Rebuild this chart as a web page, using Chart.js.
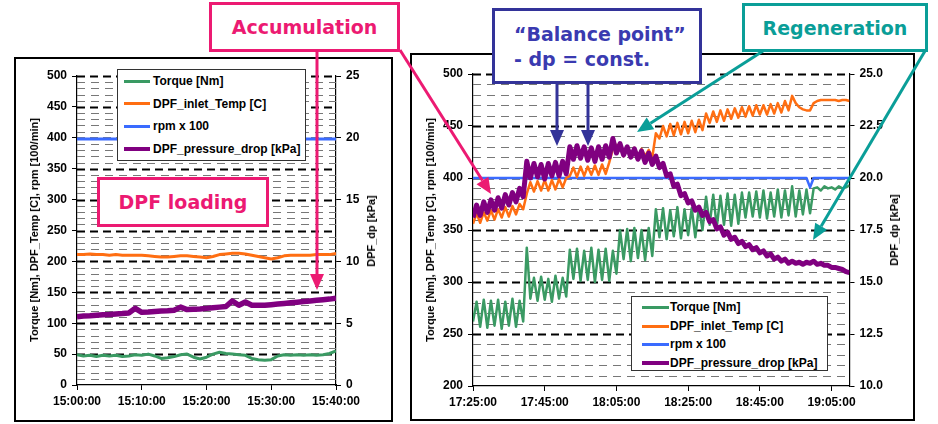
<!DOCTYPE html>
<html><head><meta charset="utf-8">
<script src="https://cdn.jsdelivr.net/npm/chart.js@4.4.1/dist/chart.umd.min.js"></script>
<style>
html,body{margin:0;padding:0;background:#fff;width:938px;height:424px;overflow:hidden;position:relative;font-family:"Liberation Sans",Arial,sans-serif;}
.frame{position:absolute;border:2px solid #000;box-sizing:border-box;}
canvas{position:absolute;}
.legend{position:absolute;background:#fff;border:1px solid #333;box-sizing:border-box;font:bold 12px "Liberation Sans",Arial,sans-serif;color:#000;}
.legend .row{position:absolute;white-space:nowrap;line-height:14px;}
.legend .sw{position:absolute;}
.ytitle{position:absolute;white-space:nowrap;font:bold 11px "Liberation Sans",Arial,sans-serif;color:#000;transform:translate(-50%,-50%) rotate(-90deg);}
.note{position:absolute;background:#fff;box-sizing:border-box;font:bold 19px "DejaVu Sans",sans-serif;display:flex;align-items:center;justify-content:center;white-space:nowrap;}
svg{position:absolute;left:0;top:0;}
</style>
</head><body>
<div class="frame" style="left:14px;top:57px;width:379px;height:365px"></div>
<div class="frame" style="left:410px;top:53px;width:505px;height:368px"></div>
<canvas id="c1" width="379" height="365" style="left:14px;top:57px;width:379px;height:365px"></canvas>
<canvas id="c2" width="505" height="368" style="left:410px;top:53px;width:505px;height:368px"></canvas>
<div id="overlay"></div>
<script>
// ---------- shared ----------
const seriesNames = ['Torque [Nm]', 'DPF_inlet_Temp [C]', 'rpm x 100', 'DPF_pressure_drop [kPa]'];
const seriesColors = ['#3A9A63', '#FF6E12', '#3A6BFF', '#800080'];
const leftAxisTitle = 'Torque [Nm], DPF_Temp [C], rpm [100/min]';
const rightAxisTitle = 'DPF_dp [kPa]';

// ---------- left chart (15:00 - 15:40), one sample per minute ----------
const leftTimeLabels = ['15:00:00', '15:10:00', '15:20:00', '15:30:00', '15:40:00'];
const leftStepMin = 1;
const leftTorque = [49,47,48,46,48,47,48,46,47,49, 48,50,47,43,44,46,49,50,45,42, 45,50,53,51,50,49,48,43,41,40, 41,47,49,48,49,48,49,48,49,51, 55];
const leftTemp = [211,211,212,211,211,210,211,210,210,210, 210,209,208,207,207,208,209,209,208,207, 206,208,211,212,213,213,212,210,208,206, 204,206,209,210,210,210,210,211,211,211, 213];
const leftRpm = [398,398,398,398,398,398,398,398,398,398, 398,398,398,398,398,398,398,398,398,398, 398,398,398,398,398,398,398,398,398,398, 398,398,398,398,398,398,398,398,398,398, 398];
const leftDp = [5.53,5.58,5.60,5.65,5.68,5.70,5.75,5.78,5.83,6.20, 5.88,5.90,5.95,5.98,6.00,6.05,6.30,6.10,6.13,6.15, 6.20,6.25,6.30,6.35,6.80,6.45,6.72,6.45,6.45,6.45, 6.50,6.55,6.60,6.65,6.70,6.75,6.80,6.85,6.90,6.95, 7.03];

// ---------- right chart (17:25 - 19:10), one sample per minute ----------
const rightTimeLabels = ['17:25:00', '17:45:00', '18:05:00', '18:25:00', '18:45:00', '19:05:00'];
const rightStepMin = 1;
const rightTorque = [262,281,257,283,256,282,258,283,255,281, 258,284,257,282,262,333,284,304,282,305, 283,303,281,306,284,304,286,331,303,332, 301,330,302,333,300,331,302,332,301,330, 308,350,322,351,320,352,323,350,321,352, 325,370,343,371,341,369,344,372,342,370, 345,371,343,372,350,382,355,384,353,383, 355,385,354,384,356,386,362,386,363,387, 362,388,361,386,363,389,362,388,364,392, 363,388,365,389,366,390,391,388,392,390, 391,389,392,390,391,393];
const rightTemp = [356,366,357,367,359,369,360,370,362,372, 363,373,365,375,370,385,396,387,397,388, 398,388,398,389,399,391,400,402,410,401, 411,402,411,403,412,403,413,404,415,428, 432,430,421,430,421,429,420,428,421,427, 420,443,438,450,440,452,441,453,442,454, 443,455,444,456,446,462,453,464,454,465, 455,466,457,467,458,468,459,469,460,470, 461,470,461,471,462,472,463,474,465,479, 472,468,466,465,465,472,474,475,475,475, 475,475,474,475,475,474];
const rightRpm = [400,400,400,400,400,400,400,400,400,400, 400,400,400,400,400,400,400,400,400,400, 400,400,400,400,400,400,400,400,400,400, 400,400,400,400,400,400,400,400,400,400, 400,400,400,400,400,400,400,400,400,400, 400,400,400,400,400,400,400,400,400,400, 400,400,400,400,400,400,400,400,400,400, 400,400,400,400,400,400,400,400,400,400, 400,400,400,400,400,400,400,400,400,400, 400,400,400,400,391,400,400,400,400,400, 400,400,400,400,400,400];
const rightDp = [18.10,18.70,18.20,18.85,18.35,18.95,18.45,19.05,18.55,19.20, 18.70,19.30,18.85,19.50,19.10,20.80,20.00,20.70,20.05,20.65, 19.95,20.70,20.10,20.75,20.10,20.80,20.20,21.50,20.90,21.55, 20.95,21.50,20.85,21.45,20.80,21.50,20.90,21.55,21.00,21.90, 21.20,21.65,21.10,21.50,21.00,21.40,20.90,21.30,20.75,21.20, 20.65,21.05,20.50,20.70,20.10,20.20,19.60,19.70,19.15,19.25, 18.80,18.90,18.45,18.60,18.20,18.35,17.90,18.00,17.55,17.65, 17.25,17.40,17.05,17.15,16.85,16.95,16.70,16.80,16.55,16.65, 16.40,16.50,16.25,16.35,16.10,16.20,16.00,16.10,15.90,16.00, 15.90,15.95,15.85,15.95,15.90,16.00,15.85,15.90,15.80,15.80, 15.70,15.70,15.65,15.60,15.50,15.45];

// ---------- helpers ----------
const tickFont = {family: '"Liberation Sans", Arial, sans-serif', size: 12, weight: 'bold'};
function pts(arr, step) { return arr.map((v, i) => ({x: i * step, y: v})); }

const dashGrid = {
  id: 'dashGrid',
  beforeDatasetsDraw(chart, args, opts) {
    const {ctx, chartArea: a} = chart;
    const s = chart.scales.y;
    ctx.save();
    for (let v = s.min + opts.minor; v <= s.max + 1e-6; v += opts.minor) {
      const py = Math.round(s.getPixelForValue(v)) + 0.5;
      const major = Math.abs(v % opts.major) < 1e-6;
      ctx.beginPath();
      ctx.setLineDash(major ? [8, 5] : [8, 6]);
      ctx.lineWidth = major ? 2 : 1;
      ctx.strokeStyle = major ? '#000' : '#777';
      ctx.moveTo(a.left, py); ctx.lineTo(a.right, py); ctx.stroke();
    }
    ctx.restore();
  }
};

function axisCommon() {
  return {
    grid: {drawOnChartArea: false, drawTicks: true, tickLength: 5, color: '#000', tickColor: '#000', lineWidth: 1},
    border: {color: '#000', width: 1.2},
  };
}

function buildChart(id, o) {
  const ds = [
    {label: seriesNames[0], data: pts(o.torque, o.step), borderColor: seriesColors[0], borderWidth: o.lw[0], yAxisID: 'y', order: 2},
    {label: seriesNames[1], data: pts(o.temp, o.step), borderColor: seriesColors[1], borderWidth: o.lw[1], yAxisID: 'y', order: 1},
    {label: seriesNames[2], data: pts(o.rpm, o.step), borderColor: seriesColors[2], borderWidth: o.lw[2], yAxisID: 'y', order: 3},
    {label: seriesNames[3], data: pts(o.dp, o.step), borderColor: seriesColors[3], borderWidth: o.lw[3], yAxisID: 'y1', order: 0},
  ];
  ds.forEach(d => { d.pointRadius = 0; d.tension = 0; d.fill = false; d.borderJoinStyle = 'round'; });
  return new Chart(document.getElementById(id), {
    type: 'line',
    data: {datasets: ds},
    options: {
      responsive: false, animation: false, devicePixelRatio: 1,
      layout: {padding: {top: o.padTop, left: 0, right: 0, bottom: 0}},
      plugins: {legend: {display: false}, tooltip: {enabled: false}, dashGrid: {minor: 10, major: 50}},
      scales: {
        x: Object.assign(axisCommon(), {
          type: 'linear', min: 0, max: o.xMax,
          afterBuildTicks: s => { s.ticks = o.xLabels.map((_, i) => ({value: i * o.xStep})); },
          ticks: {stepSize: o.xStep, autoSkip: false, maxRotation: 0, padding: 4, color: '#000', font: tickFont,
                  callback: v => o.xLabels[Math.round(v / o.xStep)]},
          afterFit: s => { s.height = o.xH; }
        }),
        y: Object.assign(axisCommon(), {
          position: 'left', min: o.yMin, max: o.yMax,
          ticks: {stepSize: 50, padding: 5, color: '#000', font: tickFont},
          afterFit: s => { s.width = o.yW; }
        }),
        y1: Object.assign(axisCommon(), {
          position: 'right', min: o.y1Min, max: o.y1Max,
          ticks: {stepSize: o.y1Step, padding: 5, color: '#000', font: tickFont, callback: o.y1Fmt},
          afterFit: s => { s.width = o.y1W; }
        })
      }
    },
    plugins: [dashGrid]
  });
}

buildChart('c1', {
  torque: leftTorque, temp: leftTemp, rpm: leftRpm, dp: leftDp, step: leftStepMin,
  lw: [3, 3, 3, 5.5], padTop: 19, xMax: 40, xStep: 10, xLabels: leftTimeLabels, xH: 37,
  yMin: 0, yMax: 500, yW: 63, y1Min: 0, y1Max: 25, y1Step: 5, y1W: 57, y1Fmt: v => String(v)
});
buildChart('c2', {
  torque: rightTorque, temp: rightTemp, rpm: rightRpm, dp: rightDp, step: rightStepMin,
  lw: [2.5, 2.5, 2.5, 5], padTop: 21, xMax: 105, xStep: 20, xLabels: rightTimeLabels, xH: 35,
  yMin: 200, yMax: 500, yW: 63, y1Min: 10, y1Max: 25, y1Step: 2.5, y1W: 65.5, y1Fmt: v => v.toFixed(1)
});

// ---------- overlays: axis titles, legends, annotations ----------
const ov = document.getElementById('overlay');
function addTitle(text, cx, cy) {
  const d = document.createElement('div'); d.className = 'ytitle'; d.textContent = text;
  d.style.left = cx + 'px'; d.style.top = cy + 'px'; ov.appendChild(d);
}
addTitle(leftAxisTitle, 33.5, 230);
addTitle(rightAxisTitle, 371, 231);
addTitle(leftAxisTitle, 430, 230);
addTitle(rightAxisTitle, 894, 230);

function addLegend(box, rows, swX, swW, txtX) {
  const L = document.createElement('div'); L.className = 'legend';
  Object.assign(L.style, {left: box[0] + 'px', top: box[1] + 'px', width: box[2] + 'px', height: box[3] + 'px'});
  seriesNames.forEach((n, i) => {
    const th = i === 3 ? 4 : 3;
    const sw = document.createElement('div'); sw.className = 'sw';
    Object.assign(sw.style, {left: swX + 'px', width: swW + 'px', top: (rows[i] - th / 2) + 'px', height: th + 'px', background: seriesColors[i]});
    const t = document.createElement('div'); t.className = 'row'; t.textContent = n;
    Object.assign(t.style, {left: txtX + 'px', top: (rows[i] - 7) + 'px'});
    L.appendChild(sw); L.appendChild(t);
  });
  ov.appendChild(L);
}
addLegend([117, 69, 189, 92], [11, 33.5, 56, 79], 6, 26, 35);
addLegend([631, 296, 197, 75], [10, 29, 47, 66], 10, 27, 38);

const PINK = '#EC1A72', BLUE = '#333399', BLUETXT = '#3A3AB0', TEAL = '#0A9E98';
const svgNS = 'http://www.w3.org/2000/svg';
const svg = document.createElementNS(svgNS, 'svg');
svg.setAttribute('width', 938); svg.setAttribute('height', 424);
svg.style.width = '938px'; svg.style.height = '424px';
function arrow(x1, y1, x2, y2, color) {
  const len = Math.hypot(x2 - x1, y2 - y1), ux = (x2 - x1) / len, uy = (y2 - y1) / len;
  const hl = 16, hw = 7;
  const bx = x2 - ux * hl, by = y2 - uy * hl;
  const ln = document.createElementNS(svgNS, 'line');
  ln.setAttribute('x1', x1); ln.setAttribute('y1', y1); ln.setAttribute('x2', bx); ln.setAttribute('y2', by);
  ln.setAttribute('stroke', color); ln.setAttribute('stroke-width', 3);
  const pg = document.createElementNS(svgNS, 'polygon');
  pg.setAttribute('points', `${x2},${y2} ${bx - uy * hw},${by + ux * hw} ${bx + uy * hw},${by - ux * hw}`);
  pg.setAttribute('fill', color);
  svg.appendChild(ln); svg.appendChild(pg);
}
arrow(317, 52, 317, 290, PINK);
arrow(400, 50, 491, 194, PINK);
arrow(557, 84, 557, 146, BLUE);
arrow(588, 84, 588, 146, BLUE);
arrow(763, 51, 637, 132, TEAL);
arrow(925, 51, 813, 240, TEAL);
ov.appendChild(svg);

function note(html, x, y, w, h, border, color, extra) {
  const d = document.createElement('div'); d.className = 'note'; d.innerHTML = html;
  Object.assign(d.style, {left: x + 'px', top: y + 'px', width: w + 'px', height: h + 'px', border: '3px solid ' + border, color: color}, extra || {});
  ov.appendChild(d);
}
note('Accumulation', 209, 2, 191, 50, PINK, PINK);
note('DPF loading', 97, 177, 172, 50, PINK, PINK);
note('\u201CBalance point\u201D<br>- dp = const.', 492, 8, 210, 76, BLUE, BLUETXT,
     {justifyContent: 'flex-start', paddingLeft: '19px', lineHeight: '25px', display: 'block', paddingTop: '11px'});
note('Regeneration', 742, 3, 186, 49, TEAL, TEAL);
</script>
</body></html>
